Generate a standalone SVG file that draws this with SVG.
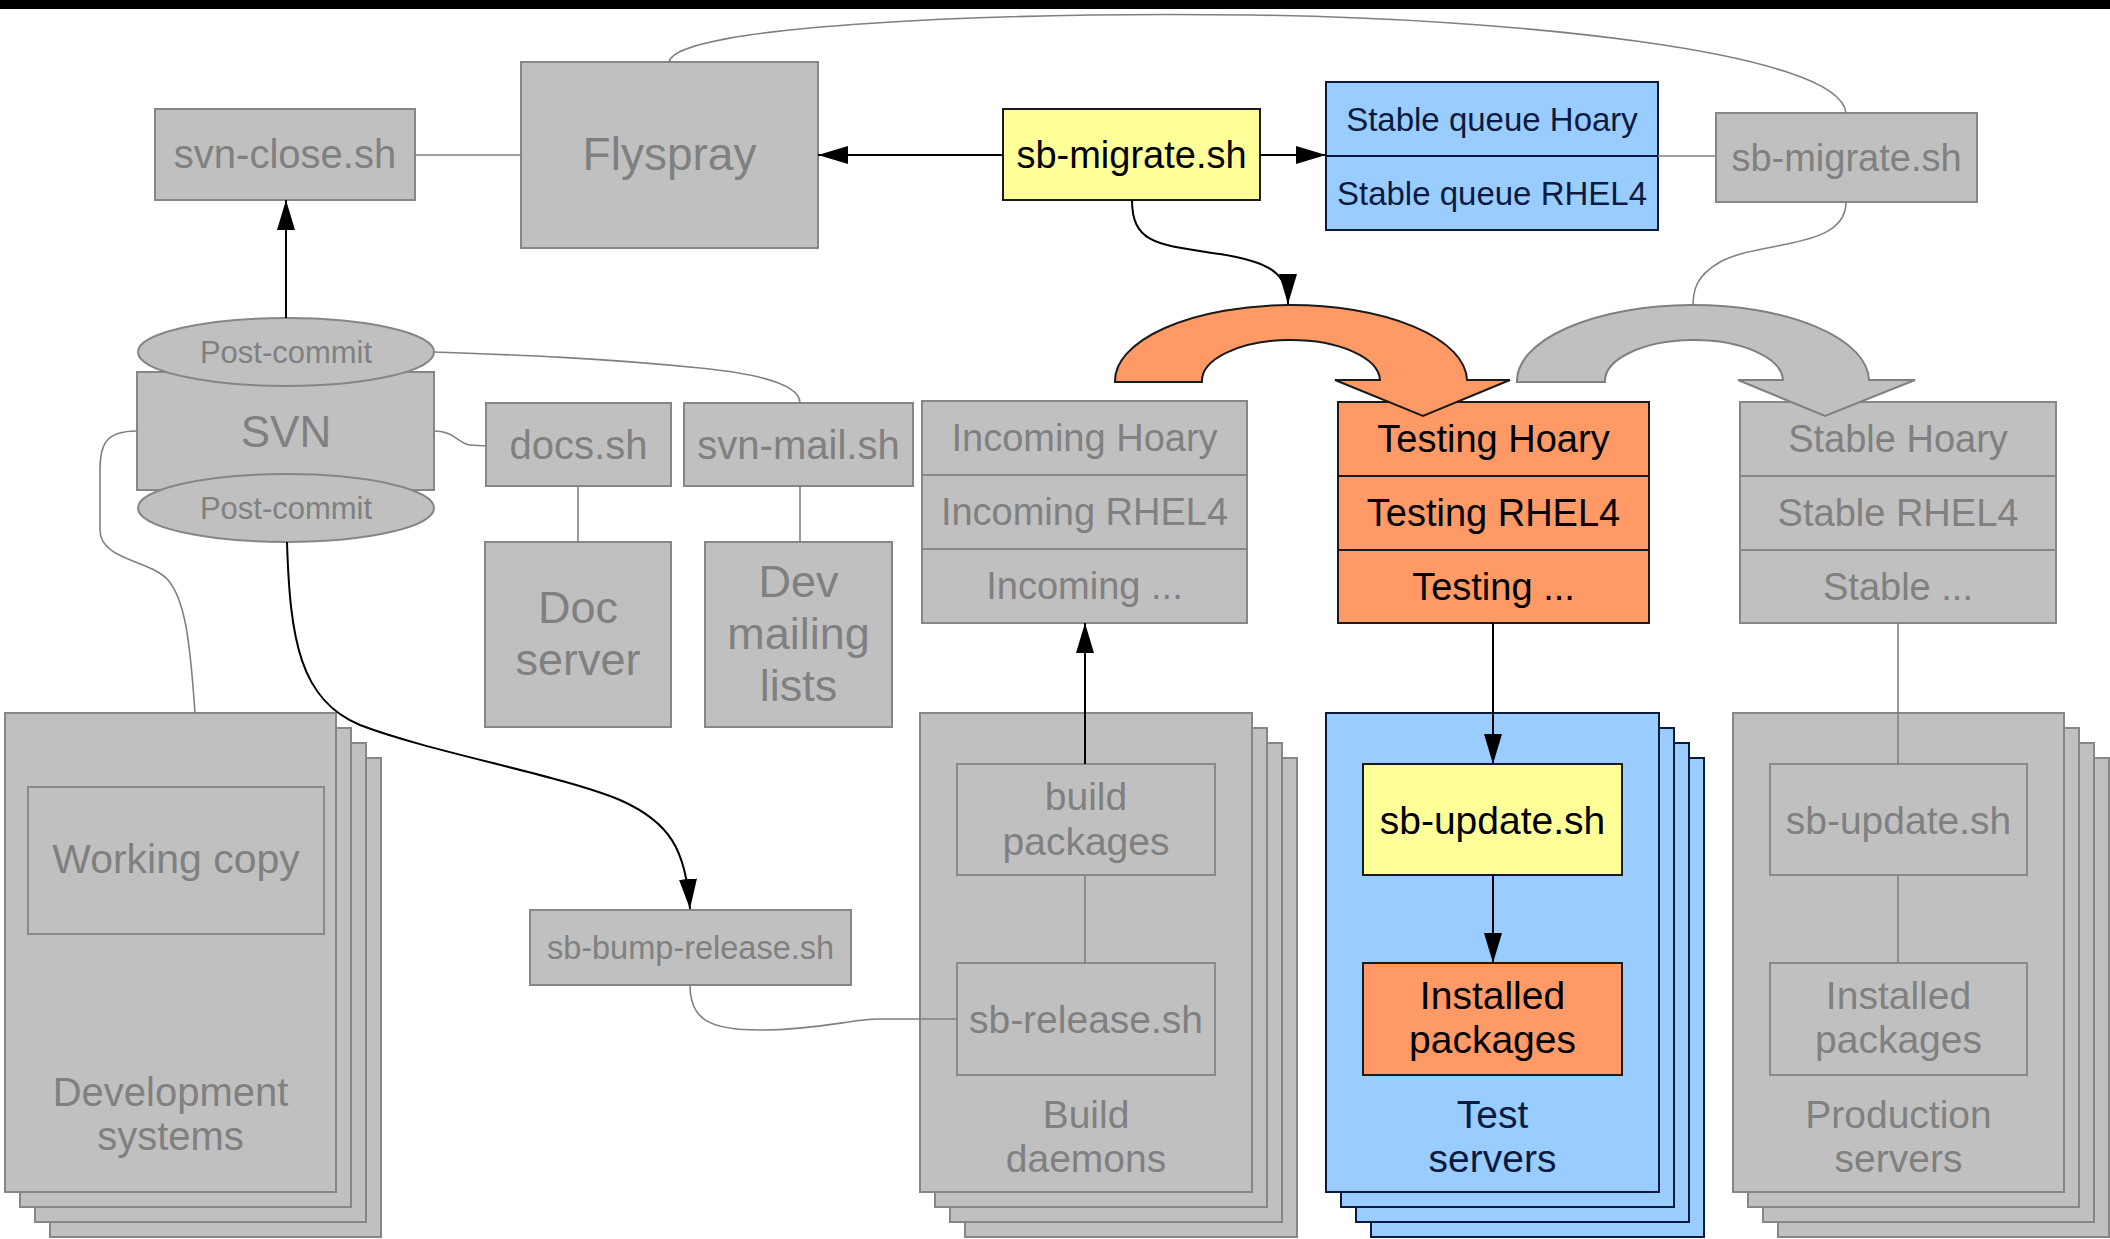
<svg xmlns="http://www.w3.org/2000/svg" width="2110" height="1239" viewBox="0 0 2110 1239">
<defs>
<style>
.g{fill:#c0c0c0;stroke:#868686;stroke-width:2}
.gi{fill:#c0c0c0;stroke:#8a8a8a;stroke-width:2}
.y{fill:#ffff99;stroke:#1a1a1a;stroke-width:2}
.b{fill:#99ccff;stroke:#0d1a40;stroke-width:2}
.o{fill:#ff9966;stroke:#1a1a1a;stroke-width:2}
text{font-family:"Liberation Sans",Arial,sans-serif;text-anchor:middle}
.tg{fill:#808080}
.tk{fill:#000}
.tn{fill:#0d1a40}
.cg{fill:none;stroke:#808080;stroke-width:1.6}
.ck{fill:none;stroke:#000;stroke-width:2}
</style>
<marker id="ah" markerUnits="userSpaceOnUse" markerWidth="30" markerHeight="18" refX="30" refY="9" orient="auto">
<path d="M0,0 L30,9 L0,18 Z" fill="#000"/>
</marker>
</defs>
<rect x="0" y="0" width="2110" height="1239" fill="#fff"/>
<rect x="0" y="0" width="2110" height="9" fill="#000"/>

<g id="svn-close">
<rect class="g" x="155" y="109" width="260" height="91"/>
<text class="tg" x="285" y="168" font-size="40">svn-close.sh</text>
</g>

<g id="flyspray">
<rect class="g" x="521" y="62" width="297" height="186"/>
<text class="tg" x="669.5" y="170" font-size="46">Flyspray</text>
</g>

<g id="sb-migrate">
<rect class="y" x="1003" y="109" width="257" height="91"/>
<text class="tk" x="1131.5" y="168" font-size="38">sb-migrate.sh</text>
</g>

<g id="stable-queue">
<rect class="b" x="1326" y="82" width="332" height="148"/>
<line x1="1326" y1="156" x2="1658" y2="156" stroke="#0d1a40" stroke-width="2"/>
<text class="tn" x="1492" y="131" font-size="33">Stable queue Hoary</text>
<text class="tn" x="1492" y="205" font-size="33">Stable queue RHEL4</text>
</g>

<g id="sb-migrate-stable">
<rect class="g" x="1716" y="113" width="261" height="89"/>
<text class="tg" x="1846.5" y="171" font-size="38">sb-migrate.sh</text>
</g>

<g id="svn">
<rect class="g" x="137" y="372" width="297" height="118"/>
<ellipse class="g" cx="286" cy="352" rx="148" ry="34"/>
<ellipse class="g" cx="286" cy="508" rx="148" ry="34"/>
<text class="tg" x="286" y="447" font-size="44">SVN</text>
<text class="tg" x="286" y="363" font-size="31">Post-commit</text>
<text class="tg" x="286" y="519" font-size="31">Post-commit</text>
</g>

<g id="docs">
<rect class="g" x="486" y="403" width="185" height="83"/>
<text class="tg" x="578.5" y="459" font-size="40">docs.sh</text>
</g>

<g id="svn-mail">
<rect class="g" x="684" y="403" width="229" height="83"/>
<text class="tg" x="798.5" y="459" font-size="40">svn-mail.sh</text>
</g>

<g id="doc-server">
<rect class="g" x="485" y="542" width="186" height="185"/>
<text class="tg" x="578" y="623" font-size="45">Doc</text>
<text class="tg" x="578" y="675" font-size="45">server</text>
</g>

<g id="dev-lists">
<rect class="g" x="705" y="542" width="187" height="185"/>
<text class="tg" x="798.5" y="597" font-size="45">Dev</text>
<text class="tg" x="798.5" y="649" font-size="45">mailing</text>
<text class="tg" x="798.5" y="701" font-size="45">lists</text>
</g>

<g id="incoming">
<rect class="g" x="922" y="401" width="325" height="222"/>
<line x1="922" y1="475" x2="1247" y2="475" stroke="#868686" stroke-width="2"/>
<line x1="922" y1="549" x2="1247" y2="549" stroke="#868686" stroke-width="2"/>
<text class="tg" x="1084.5" y="451" font-size="38">Incoming Hoary</text>
<text class="tg" x="1084.5" y="525" font-size="38">Incoming RHEL4</text>
<text class="tg" x="1084.5" y="599" font-size="38">Incoming ...</text>
</g>

<g id="testing">
<rect class="o" x="1338" y="402" width="311" height="221"/>
<line x1="1338" y1="476" x2="1649" y2="476" stroke="#1a1a1a" stroke-width="2"/>
<line x1="1338" y1="550" x2="1649" y2="550" stroke="#1a1a1a" stroke-width="2"/>
<text class="tk" x="1493.5" y="452" font-size="38">Testing Hoary</text>
<text class="tk" x="1493.5" y="526" font-size="38">Testing RHEL4</text>
<text class="tk" x="1493.5" y="600" font-size="38">Testing ...</text>
</g>

<g id="stable">
<rect class="g" x="1740" y="402" width="316" height="221"/>
<line x1="1740" y1="476" x2="2056" y2="476" stroke="#868686" stroke-width="2"/>
<line x1="1740" y1="550" x2="2056" y2="550" stroke="#868686" stroke-width="2"/>
<text class="tg" x="1898" y="452" font-size="38">Stable Hoary</text>
<text class="tg" x="1898" y="526" font-size="38">Stable RHEL4</text>
<text class="tg" x="1898" y="600" font-size="38">Stable ...</text>
</g>

<g id="dev-systems">
<rect class="g" x="50" y="758" width="331" height="479"/>
<rect class="g" x="35" y="743" width="331" height="479"/>
<rect class="g" x="20" y="728" width="331" height="479"/>
<rect class="g" x="5" y="713" width="331" height="479"/>
<rect class="gi" x="28" y="787" width="296" height="147"/>
<text class="tg" x="176" y="873" font-size="41">Working copy</text>
<text class="tg" x="170.5" y="1106" font-size="40">Development</text>
<text class="tg" x="170.5" y="1150" font-size="40">systems</text>
</g>

<g id="sb-bump-release">
<rect class="g" x="530" y="910" width="321" height="75"/>
<text class="tg" x="690.5" y="959" font-size="32.5">sb-bump-release.sh</text>
</g>

<g id="build-daemons">
<rect class="g" x="965" y="758" width="332" height="479"/>
<rect class="g" x="950" y="743" width="332" height="479"/>
<rect class="g" x="935" y="728" width="332" height="479"/>
<rect class="g" x="920" y="713" width="332" height="479"/>
<rect class="gi" x="957" y="764" width="258" height="111"/>
<rect class="gi" x="957" y="963" width="258" height="112"/>
<text class="tg" x="1086" y="810" font-size="39">build</text>
<text class="tg" x="1086" y="855" font-size="39">packages</text>
<text class="tg" x="1086" y="1033" font-size="39">sb-release.sh</text>
<text class="tg" x="1086" y="1128" font-size="39">Build</text>
<text class="tg" x="1086" y="1172" font-size="39">daemons</text>
</g>

<g id="test-servers">
<rect class="b" x="1371" y="758" width="333" height="479"/>
<rect class="b" x="1356" y="743" width="333" height="479"/>
<rect class="b" x="1341" y="728" width="333" height="479"/>
<rect class="b" x="1326" y="713" width="333" height="479"/>
<rect class="y" x="1363" y="764" width="259" height="111"/>
<rect class="o" x="1363" y="963" width="259" height="112"/>
<text class="tk" x="1492.5" y="834" font-size="39">sb-update.sh</text>
<text class="tk" x="1492.5" y="1009" font-size="39">Installed</text>
<text class="tk" x="1492.5" y="1053" font-size="39">packages</text>
<text class="tn" x="1492.5" y="1128" font-size="39">Test</text>
<text class="tn" x="1492.5" y="1172" font-size="39">servers</text>
</g>

<g id="production-servers">
<rect class="g" x="1778" y="758" width="331" height="479"/>
<rect class="g" x="1763" y="743" width="331" height="479"/>
<rect class="g" x="1748" y="728" width="331" height="479"/>
<rect class="g" x="1733" y="713" width="331" height="479"/>
<rect class="gi" x="1770" y="764" width="257" height="111"/>
<rect class="gi" x="1770" y="963" width="257" height="112"/>
<text class="tg" x="1898.5" y="834" font-size="39">sb-update.sh</text>
<text class="tg" x="1898.5" y="1009" font-size="39">Installed</text>
<text class="tg" x="1898.5" y="1053" font-size="39">packages</text>
<text class="tg" x="1898.5" y="1128" font-size="39">Production</text>
<text class="tg" x="1898.5" y="1172" font-size="39">servers</text>
</g>

<g id="connectors">
<path class="cg" d="M669,62 C675,25 1000,12 1250,15 C1500,18 1840,50 1846,113"/>
<path class="cg" d="M415,155 L521,155"/>
<path class="ck" d="M1003,155 L818,155" marker-end="url(#ah)"/>
<path class="ck" d="M1260,155 L1326,155" marker-end="url(#ah)"/>
<path class="cg" d="M1658,156 L1716,156"/>
<path class="ck" d="M286,318 L286,200" marker-end="url(#ah)"/>
<path class="ck" d="M1132,200 C1132,245 1160,245 1220,254 C1272,262 1288,275 1288,304" marker-end="url(#ah)"/>
<path class="cg" d="M1846,202 C1846,250 1760,240 1720,262 C1696,276 1693,290 1693,306"/>
<path class="cg" d="M434,352 C520,355 600,358 700,368 C780,376 800,390 800,403"/>
<path class="cg" d="M435,431 C455,431 458,444 470,445 L486,446"/>
<path class="cg" d="M578,486 L578,542"/>
<path class="cg" d="M800,486 L800,542"/>
<path class="cg" d="M137,431 C105,431 100,445 100,470 L100,530 C100,560 150,560 168,580 C185,600 190,640 195,713"/>
<path class="ck" d="M287,542 C290,640 300,700 360,725 C430,752 560,775 620,800 C670,822 686,850 690,909" marker-end="url(#ah)"/>
<path class="cg" d="M690,985 C690,1020 710,1030 760,1030 C820,1030 850,1019 880,1019 L957,1019"/>
<path class="ck" d="M1085,764 L1085,623" marker-end="url(#ah)"/>
<path class="cg" d="M1085,875 L1085,963"/>
<path class="ck" d="M1493,623 L1493,764" marker-end="url(#ah)"/>
<path class="ck" d="M1493,875 L1493,963" marker-end="url(#ah)"/>
<path class="cg" d="M1898,623 L1898,764 M1898,875 L1898,963"/>
</g>

<g id="migrate-testing-arrow">
<path d="M1115,382 A176,76 0 0 1 1467,380 L1510,380 L1423,416 L1335,380 L1380,380 A89,41 0 0 0 1202,382 Z" fill="#ff9966" stroke="#1a1a1a" stroke-width="2"/>
</g>

<g id="migrate-stable-arrow">
<path d="M1517,382 A176,76 0 0 1 1869,380 L1915,380 L1825,416 L1738,380 L1783,380 A89,41 0 0 0 1605,382 Z" fill="#c0c0c0" stroke="#808080" stroke-width="2"/>
</g>
</svg>
